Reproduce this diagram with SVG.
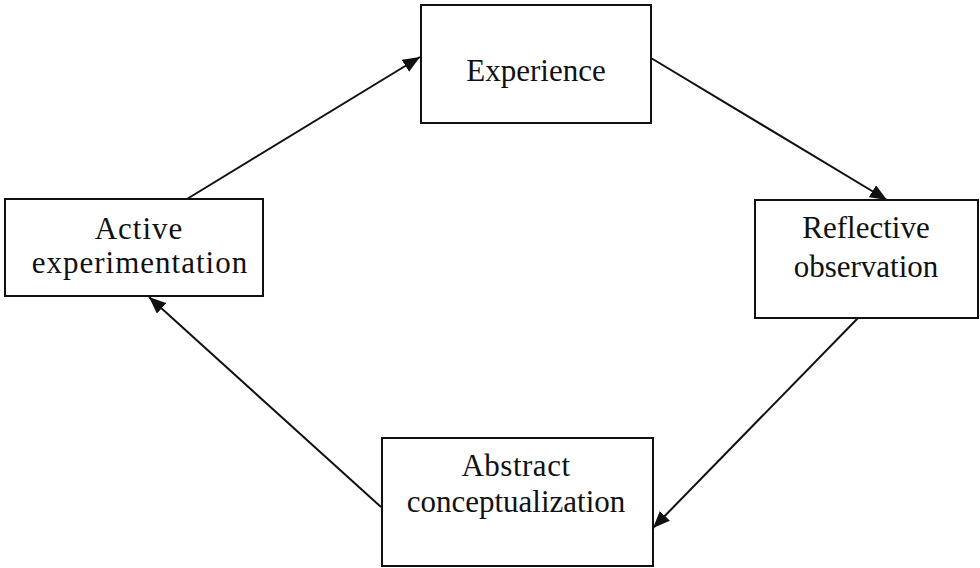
<svg xmlns="http://www.w3.org/2000/svg" width="980" height="568" viewBox="0 0 980 568">
  <style>
    .box { fill: #ffffff; stroke: #111111; stroke-width: 2; }
    .label { font-family: "Liberation Serif", "Times New Roman", serif; font-size: 31px; fill: #111111; text-anchor: middle; }
    .link { stroke: #111111; stroke-width: 2; fill: none; marker-end: url(#head); }
  </style>
  <defs>
    <marker id="head" markerUnits="userSpaceOnUse" markerWidth="18" markerHeight="14" refX="17" refY="7" orient="auto">
      <path d="M0,0 L17,7 L0,14 Z" fill="#111111"/>
    </marker>
  </defs>
  <rect width="980" height="568" fill="#ffffff"/>

  <g id="connectors">
    <line class="link" x1="187" y1="199" x2="420" y2="57"/>
    <line class="link" x1="651" y1="58" x2="887" y2="200"/>
    <line class="link" x1="858" y1="318" x2="653" y2="528"/>
    <line class="link" x1="381" y1="507" x2="149" y2="297"/>
  </g>

  <g id="experience">
    <rect class="box" x="421" y="5" width="230" height="118"/>
    <text class="label" x="536" y="81">Experience</text>
  </g>

  <g id="reflective-observation">
    <rect class="box" x="755" y="200" width="223" height="118"/>
    <text class="label" x="866" y="238">Reflective</text>
    <text class="label" x="866" y="277">observation</text>
  </g>

  <g id="abstract-conceptualization">
    <rect class="box" x="382" y="438" width="271" height="128"/>
    <text class="label" x="516" y="476" letter-spacing="0.5">Abstract</text>
    <text class="label" x="516" y="512">conceptualization</text>
  </g>

  <g id="active-experimentation">
    <rect class="box" x="5" y="199" width="258" height="97"/>
    <text class="label" x="139" y="239" letter-spacing="1">Active</text>
    <text class="label" x="140" y="273" letter-spacing="1">experimentation</text>
  </g>
</svg>
